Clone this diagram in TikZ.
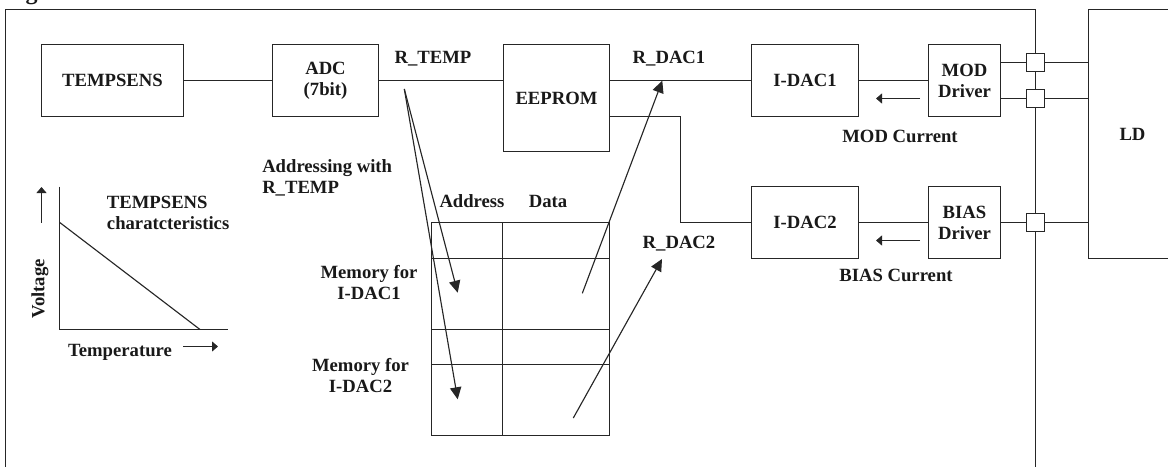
\documentclass[tikz,border=0pt]{standalone}
\usepackage{fontspec}
\setmainfont{Liberation Serif}
\usetikzlibrary{arrows.meta,calc}
\tikzset{
  x=0.75pt,y=-0.75pt,
  every node/.style={font=\fontsize{14pt}{15.8pt}\selectfont\bfseries,inner sep=0pt,align=center,text=black!90},
  box/.style={draw=black!85,line width=0.85pt,fill=white,minimum width=#1},
  wire/.style={draw=black!85,line width=0.85pt},
  tipped/.style={wire,-{Triangle[length=9pt,width=8.5pt]}},
  small/.style={wire,-{Triangle[length=4.5pt,width=7.5pt]}}
}
\newcommand{\bx}[6]{\node[box=#4*0.75pt,minimum height=#5*0.75pt] (#1) at (#2,#3) {#6};}
\begin{document}
\begin{tikzpicture}
\useasboundingbox (0,0) rectangle (1168,467);
% outer frame
\coordinate (fbl) at (5.5,470);
\coordinate (ftl) at (5.5,9.5);
\coordinate (ftr) at (1035.5,9.5);
\coordinate (fbr) at (1035.5,470);
\draw[wire] (fbl) -- (ftl) -- (ftr) -- (fbr);
\node[font=\fontsize{18pt}{20pt}\selectfont\bfseries,anchor=base west] (title) at (4,0) {Fig};
% boxes
\bx{tempsens}{112.5}{80.5}{142}{72}{TEMPSENS}
\bx{adc}{325.5}{80.5}{106}{72}{ADC\\(7bit)}
\bx{eeprom}{556.5}{98}{106}{107}{EEPROM}
\bx{idaca}{805}{80.5}{107}{72}{I-DAC1}
\bx{idacb}{805}{222.5}{107}{72}{I-DAC2}
\bx{mod}{964.5}{80.5}{72}{72}{MOD\\Driver}
\bx{bias}{964.5}{222.5}{72}{72}{BIAS\\Driver}
\bx{ld}{1132.5}{134}{88}{249}{LD}
\bx{pa}{1035.5}{62.5}{18}{18}{}
\bx{pb}{1035.5}{98.5}{18}{18}{}
\bx{pc}{1035.5}{222.5}{18}{18}{}
% wires
\draw[wire] (tempsens) -- (adc);
\draw[wire] (adc) -- (eeprom.west |- adc);
\draw[wire] (eeprom.east |- idaca) -- (idaca);
\coordinate (eo) at (eeprom.east |- 0,116.5);
\coordinate (elbow) at (680.5,116.5);
\draw[wire] (eo) -- (elbow) -- (elbow |- idacb) -- (idacb);
\draw[wire] (idaca) -- (mod);
\draw[wire] (idacb) -- (bias);
\draw[wire] (mod.east |- pa) -- (pa);
\draw[wire] (mod.east |- pb) -- (pb);
\draw[wire] (bias.east |- pc) -- (pc);
\draw[wire] (pa) -- (ld.west |- pa);
\draw[wire] (pb) -- (ld.west |- pb);
\draw[wire] (pc) -- (ld.west |- pc);
% current arrows
\coordinate (mcs) at (920,98.5); \coordinate (mce) at (876,98.5);
\coordinate (bcs) at (920,240.5); \coordinate (bce) at (876,240.5);
\draw[small] (mcs) -- (mce);
\draw[small] (bcs) -- (bce);
% memory table
\coordinate (ma) at (431.5,222.5); \coordinate (mb) at (609.5,435.5); \coordinate (mc) at (502.5,222.5);
\draw[wire] (ma) rectangle (mb);
\draw[wire] (mc) -- (mc |- mb);
\foreach \yy in {258.5,329.5,364.5}{\draw[wire] (ma |- 0,\yy) -- (mb |- 0,\yy);}
% long arrows
\coordinate (rt) at (404.3,89);
\coordinate (ra) at (457.7,292.7);
\coordinate (rb) at (457.7,399.3);
\coordinate (da) at (582.3,293.3);
\coordinate (dae) at (662.3,80.7);
\coordinate (db) at (573.3,418);
\coordinate (dbe) at (662,259);
\draw[tipped] (rt) -- (ra);
\draw[tipped] (rt) -- (rb);
\draw[tipped] (da) -- (dae);
\draw[tipped] (db) -- (dbe);
% graph
\coordinate (ot) at (59.5,186.5); \coordinate (oo) at (59.5,329.5); \coordinate (ox) at (227.5,329.5);
\coordinate (la) at (59.5,222.3); \coordinate (lb) at (200,329.5);
\draw[wire] (ot) -- (oo) -- (ox);
\draw[wire] (la) -- (lb);
\coordinate (uas) at (41.5,222.5); \coordinate (uae) at (41.5,187);
\coordinate (tas) at (183,346.5); \coordinate (tae) at (218,346.5);
\draw[small] (uas) -- (uae);
\draw[small] (tas) -- (tae);
% labels
\node[rotate=90] (volt) at (40,289) {Voltage};
\node (temp) at (120,352) {Temperature};
\node[align=left,anchor=west] (char) at (106.7,213) {TEMPSENS\\charatcteristics};
\node[align=left,anchor=west] (addr) at (262,178) {Addressing with\\R\_TEMP};
\node (mema) at (369,282.5) {Memory for\\I-DAC1};
\node (memb) at (360.5,375.5) {Memory for\\I-DAC2};
\node (haddr) at (472,201.5) {Address};
\node (hdata) at (548,201.5) {Data};
\node (rtemp) at (433,59) {R\_TEMP};
\node (rdaca) at (669,59) {R\_DAC1};
\node (rdacb) at (679,244) {R\_DAC2};
\node (modc) at (900,136) {MOD Current};
\node (biasc) at (896,275) {BIAS Current};
\end{tikzpicture}
\end{document}
